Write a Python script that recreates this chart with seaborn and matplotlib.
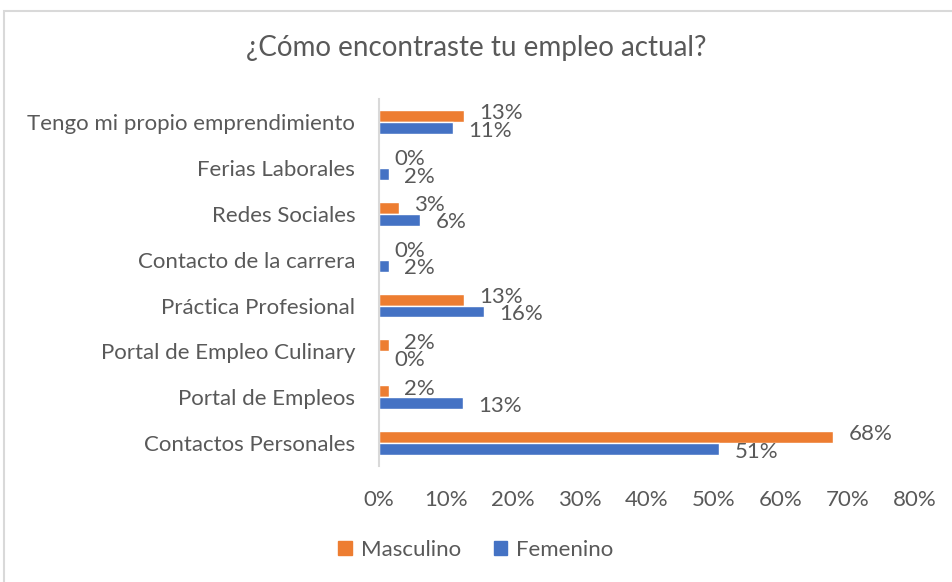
import numpy as np
import pandas as pd
import matplotlib.pyplot as plt
import seaborn as sns
from matplotlib.patches import Patch, Rectangle

# datos (porcentajes)
categorias = [
    "Tengo mi propio emprendimiento",
    "Ferias Laborales",
    "Redes Sociales",
    "Contacto de la carrera",
    "Práctica Profesional",
    "Portal de Empleo Culinary",
    "Portal de Empleos",
    "Contactos Personales",
]
masculino = [12.7, 0.0, 3.0, 0.0, 12.7, 1.5, 1.5, 67.8]
femenino = [11.1, 1.5, 6.2, 1.5, 15.7, 0.0, 12.6, 50.8]
series = ["Masculino", "Femenino"]
ticks_x = [0, 10, 20, 30, 40, 50, 60, 70, 80]

colores = {"Masculino": "#ED7D31", "Femenino": "#4472C4"}
gris_texto = "#595959"

df = pd.DataFrame({
    "categoria": categorias * 2,
    "serie": ["Masculino"] * len(categorias) + ["Femenino"] * len(categorias),
    "valor": masculino + femenino,
})

sns.set_style("white")
plt.rcParams["font.family"] = ["Lato", "DejaVu Sans"]

fig = plt.figure(figsize=(9.52, 5.82), dpi=100)
ax = fig.add_axes([0.398, 0.199, 0.563, 0.631])

sns.barplot(data=df, y="categoria", x="valor", hue="serie", hue_order=series,
            order=categorias, palette=colores, orient="h", width=0.52,
            saturation=1, ax=ax)

# etiquetas de datos: masculino un poco arriba, femenino un poco abajo
for cont, vals, dy in zip(ax.containers, [masculino, femenino], [2, -2]):
    for rect, v in zip(cont, vals):
        ax.annotate(f"{v:.0f}%", xy=(rect.get_width(), rect.get_y() + rect.get_height() / 2),
                    xytext=(11, dy), textcoords="offset points", ha="left", va="center",
                    fontsize=16, color=gris_texto)

ax.set_xlim(0, 80)
ax.set_xticks(ticks_x)
ax.set_xticklabels([f"{t}%" for t in ticks_x])
ax.set_xlabel("")
ax.set_ylabel("")
ax.tick_params(axis="both", length=0, labelsize=16, labelcolor=gris_texto)
ax.tick_params(axis="x", pad=17)
ax.tick_params(axis="y", pad=17)
for s in ["top", "right", "bottom"]:
    ax.spines[s].set_visible(False)
ax.spines["left"].set_color("#D9D9D9")
ax.spines["left"].set_linewidth(1.5)

ax.get_legend().remove()
handles = [Patch(color=colores[s]) for s in series]
fig.legend(handles, series, loc="center", bbox_to_anchor=(0.5, 0.055), ncol=2,
           frameon=False, fontsize=16, labelcolor=gris_texto,
           handlelength=0.6, handleheight=0.6, handletextpad=0.4, columnspacing=1.5)

fig.suptitle("¿Cómo encontraste tu empleo actual?", y=0.94, fontsize=20,
             color=gris_texto)

# marco exterior del gráfico
fig.patches.append(Rectangle((0.004, -0.05), 1.1, 1.031, transform=fig.transFigure,
                             fill=False, edgecolor="#D9D9D9", linewidth=1.5))

fig.savefig("out.png", dpi=100)
